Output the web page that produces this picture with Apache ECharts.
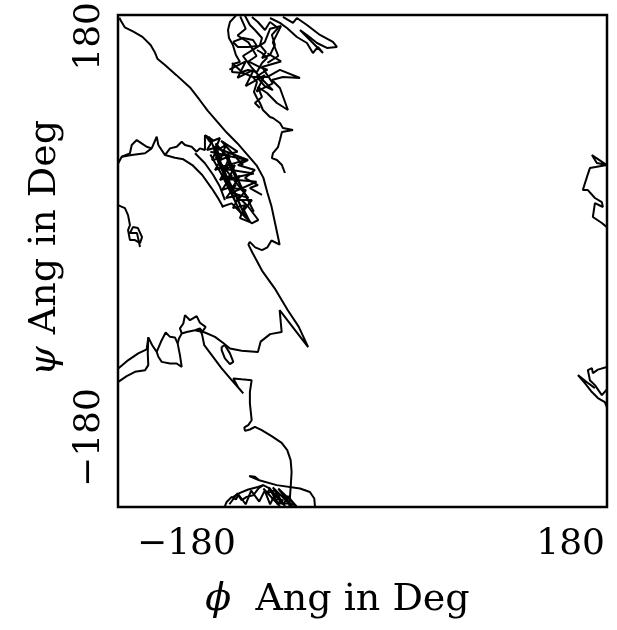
<!DOCTYPE html>
<html>
<head>
<meta charset="utf-8">
<script src="https://cdn.jsdelivr.net/npm/echarts@6/dist/echarts.min.js"></script>
<style>
  html, body { margin: 0; padding: 0; background: #fff; }
  #chart { width: 617px; height: 630px; }
</style>
</head>
<body>
<div id="chart"></div>
<script>
// phi / psi trajectory pieces, in degrees
const tickValues = [-180, 180];

const diagonal = [[-179,178],[-178,176],[-175,171],[-169,168],[-162,164],[-156,158],[-153,153],[-151,148],[-145,143],[-137,136],[-127,127],[-120,118],[-114,110],[-107,102],[-100,94],[-92,86],[-85,78],[-78,70],[-73,61],[-70,50],[-67,40],[-64,26],[-61,12],[-67,15],[-70,10],[-74,8],[-79,10],[-83,14],[-84,12],[-81,6],[-74,-7],[-64,-21],[-55,-36],[-47,-48],[-40,-63],[-61,-36],[-59.5,-52],[-68,-53.5],[-75,-59],[-77,-66.5],[-89,-65.7],[-97.6,-64],[-102.5,-60],[-108.6,-55.5],[-116,-52.3],[-123.3,-50.6]];

const upperWiggle = [[-179.8,-78.6],[-172.4,-72.5],[-165.1,-67.6],[-158.9,-64.7],[-157.7,-55.9],[-154.8,-61.6],[-151.5,-66.5],[-148.4,-59.1],[-144.9,-52.3],[-141.7,-55.5],[-138.1,-55.9],[-136.1,-60.3],[-134.4,-68.9],[-133.1,-77.5],[-136.8,-75],[-141.7,-75],[-147.8,-73.8],[-150.3,-70.1],[-151.5,-66.5]];
const lowerWiggle = [[-179.8,-88.4],[-173.6,-84.2],[-167.5,-81.1],[-160.1,-79.9],[-157.7,-76.2],[-158.1,-67.6],[-157.7,-55.9]];
const peaks = [[-136.1,-60.3],[-135.1,-56.7],[-133.1,-53],[-134.4,-49.3],[-131.9,-45.7],[-130.7,-39.6],[-127,-43.3],[-122.1,-40.3],[-119.7,-45.2],[-115.5,-48.2],[-118,-51.9],[-119.7,-49.3],[-123.3,-50.6],[-129.4,-51.9],[-133.1,-53]];
const oval = [[-103.7,-62.8],[-101.3,-61.6],[-97.6,-67.6],[-95.1,-73.8],[-97.6,-75.5],[-101.3,-71.3],[-103.7,-65.2],[-103.7,-62.8]];
const descent = [[-119.7,-49.3],[-118,-54.2],[-116.5,-61.6],[-111,-68.9],[-103.7,-78.6],[-96.3,-87.2],[-87.8,-96.9],[-91.5,-92.5],[-95.1,-85.9],[-89,-86.6],[-81.6,-87.2],[-82.9,-95.7],[-82.9,-104.2],[-81.6,-116.5],[-80.4,-117.7],[-84.1,-120.1],[-87,-121.8],[-86.5,-124.3],[-82.9,-123.3],[-79.2,-121.4],[-74.2,-123.8],[-66.9,-128.2],[-59.5,-133.1],[-55.4,-138.4],[-52.9,-145.7],[-52.2,-154.3],[-52.7,-162.8],[-53.4,-172.6],[-53.9,-179.4]];

const bottomLong = [[-76,-160.4],[-83.4,-157.4],[-79.2,-157.9],[-76,-160.4],[-63.2,-164],[-46,-166.5],[-38.7,-169],[-35.5,-173.8],[-35,-179.4]];
const bottomTangle = [[-101.3,-179.4],[-100,-176.3],[-96.3,-172.6],[-93.2,-174.5],[-91.5,-171.4],[-89,-175],[-85.3,-172.6],[-80.4,-171.4],[-76.7,-166.5],[-73.1,-164],[-68.1,-166.5],[-70.6,-170.1],[-64.5,-167.7],[-60.8,-171.4],[-66.9,-173.8],[-58.3,-175],[-63.2,-177.4],[-53.4,-177.4],[-48.5,-179.4]];
const bottomHatch = [[-73,-166.5],[-61,-179.4],[-69,-165.7],[-57,-179.4],[-66,-165.7],[-52,-179.4],[-62,-166.5],[-48.5,-179.4]];
const bottomLeft = [[-95.4,-172.8],[-90.2,-169.7],[-84.1,-167.2],[-77,-165.3],[-73.1,-164]];
const bottomZig = [[-98,-178],[-92,-170],[-86,-178],[-82,-168],[-76,-176],[-72,-168],[-68,-178],[-64,-170],[-58,-178],[-55,-172],[-50,-178]];

const edgeLoop = [[-180,40.9],[-174.9,38.7],[-172.6,33.6],[-171.2,26.3],[-172.6,22.6],[-171.2,15.3],[-167.5,15.3],[-163.8,13.1],[-162.3,17.5],[-165.3,24.1],[-169,24.8],[-171.2,20.4],[-166,20.4],[-163.8,10.2]];

const midLeft = [[-179.8,71.5],[-177.3,76.3],[-171.2,78.8],[-169.9,84.9],[-166.2,88.5],[-162.6,86.1],[-158.9,83.6],[-155.2,82.4],[-151.5,90.9],[-150.3,84.9],[-145.4,77.5],[-141.7,82.4],[-136.8,83.6],[-133.1,87.3],[-130.7,84.9],[-125.8,83.6],[-122.1,80],[-119.7,82.4],[-116,81.2],[-116,92.2]];
const midLower = [[-177.3,76.3],[-169.9,77.5],[-160.1,78.8],[-155.2,82.4]];
const midArc = [[-145.4,77.5],[-138.1,75.6],[-131.9,74.4],[-125.3,70.2],[-118,62.9],[-111,53.2],[-106.2,45.8],[-102.5,39.3]];
const midArc2 = [[-123.3,78.8],[-116,71.5],[-109.9,62.9],[-104.9,54.3],[-101.3,44.6]];
const knot = [[-116,92.2],[-110.1,88.5],[-114.5,81.2],[-106.4,83.4],[-110.8,73.9],[-103.5,75.3],[-108.6,66.6],[-99,70.2],[-104.9,59.2],[-96.1,62.9],[-103.5,51.9],[-93.2,55.6],[-100.5,46.1],[-90.2,48.3],[-95.4,38.7],[-86.5,40.9],[-90.2,31.4],[-82.9,28.5],[-87.3,37.3],[-81.4,44.6],[-91.7,44.6],[-85.8,51.9],[-96.1,53.4],[-90.2,62.2],[-99,59.2],[-93.9,70.2],[-102,66.6],[-97.6,76.8],[-104.9,73.9],[-100.5,84.9],[-109.3,79.7],[-104.9,90],[-112.3,87.1],[-116,92.2]];
const knotStrokes = [[-113,91],[-100,62],[-94,50],[-86,32],[-92,45],[-104,70],[-108,86],[-98,74],[-90,56],[-84,44],[-80,36],[-88,52],[-96,66],[-102,80],[-110,84],[-106,72],[-99,57],[-93,42],[-89,34],[-97,50],[-103,62],[-112,78]];
const knotWide = [[-112,80],[-86,74],[-106,68],[-80,64],[-100,60],[-78,58],[-96,50],[-84,46],[-108,76],[-92,80],[-104,88],[-88,70]];
const knotRight = [[-103.5,81.2],[-84.3,73.9],[-91.7,70.2],[-79.2,66.6],[-86.5,60.7],[-77,55.6],[-82.9,53.4],[-74,48.3]];
const knotLow = [[-103.7,39.7],[-96.3,42.2],[-91.5,37.3],[-84.1,30],[-81.6,27.5],[-76.7,30],[-84.1,39.7],[-89,44.6]];

const topLobe = [[-93.2,179.5],[-97.6,174.9],[-99,169],[-98.3,163.2],[-95.4,158.1],[-93.2,150.7],[-90.2,145.6],[-95.4,144.2],[-96.1,138.3],[-88,137.6],[-80.6,134.6],[-77.7,131],[-79.9,123.7],[-77.7,119.3],[-75.5,115.6],[-73.3,110.5],[-68.1,105.4],[-65.9,104.6],[-60.8,101],[-58.6,97.3],[-51.2,95.8],[-59.3,94.4],[-60.8,88.5],[-62.2,83.4],[-65.9,79],[-66.7,75.3],[-63,73.9],[-59.3,70.2],[-57.1,64.4]];
const topOval = [[-95.4,160.3],[-88,163.2],[-80.6,161.7],[-77.7,157.3],[-84.3,156.6],[-91.7,156.6],[-95.4,160.3]];
const topColumn = [[-86.5,179.5],[-82.9,172.7],[-79.2,169],[-74,163.2],[-75.5,158.1],[-71.1,152.9],[-74,148.5],[-68.1,150.7],[-64.5,158.1],[-66.7,165.4],[-62.2,170.5],[-68.1,174.9],[-71.8,169],[-77,174.9],[-81.4,178.6]];
const topRight = [[-68.1,177.8],[-60.8,174.2],[-55.6,170.5],[-48.3,163.9],[-40.9,159.5],[-36.5,152.2],[-32.8,156.6],[-29.1,152.2],[-38.7,161.7],[-46,169],[-40.9,165.4],[-33.5,159.5],[-26.2,155.9],[-18.8,156.6],[-21.8,160.3],[-31.3,165.4],[-40.9,172.7],[-48.3,177.8],[-51.2,174.2],[-58.6,178.6]];
const topSpikes = [[-96.1,144.9],[-88.7,138.3],[-84.3,139.8],[-77.7,138.3],[-74,144.9],[-70.3,148.5],[-74,152.2],[-77.7,154.4]];
const topSpikes2 = [[-80.6,134.6],[-70.3,134.6],[-60.8,139.8],[-46,133.9],[-58.6,134.6],[-66.7,132.4],[-60.8,126.6],[-54.9,110.5],[-63,115.6],[-70.3,122.9],[-77,127.3],[-74,120],[-79.2,115.6],[-75.5,111.9]];
const topDense = [[-90,179],[-86,170],[-92,165],[-84,160],[-78,150],[-84,146],[-76,142],[-70,140],[-78,135],[-72,128],[-66,125],[-74,133],[-82,142],[-88,150],[-80,155],[-72,160],[-68,170],[-60,172],[-66,160],[-62,150],[-70,145]];
const topTangle = [[-98,140],[-86,146],[-92,134],[-80,140],[-86,128],[-72,136],[-78,124],[-66,130],[-74,142],[-60,146],[-70,152]];

const rightUpper = [[179.9,70.2],[168.9,77.5],[172.5,71.7],[179.9,70.2],[167.4,68],[165.2,61.4],[162.2,51.9],[165.9,51.9],[171.1,46.1],[176.2,43.1],[177,39.5],[171.1,42.4],[169.6,32.2],[176.2,27.8],[179.9,24.8]];
const rightLowerA = [[179.9,-77.6],[173.3,-79.5],[169.6,-82],[168.9,-78.4],[165.9,-79.8],[167.4,-87.2],[171.1,-90.8],[176.2,-98.1],[179.9,-94]];
const rightLowerB = [[179.9,-106.9],[178.4,-103.3],[173.3,-100.3],[168.9,-95.9],[163.7,-89.4],[158.6,-83.5],[165,-88.5],[171.1,-93]];

const paths = [diagonal, upperWiggle, lowerWiggle, peaks, oval, descent,
  bottomLong, bottomTangle, bottomHatch, bottomLeft, bottomZig, edgeLoop,
  midLeft, midLower, midArc, midArc2, knot, knotStrokes, knotWide, knotRight, knotLow,
  topLobe, topOval, topColumn, topRight, topSpikes, topSpikes2, topDense, topTangle,
  rightUpper, rightLowerA, rightLowerB];

const serif = 'DejaVu Serif';
const fmt = v => (v < 0 ? '\u2212' + Math.abs(v) : String(v));

const chart = echarts.init(document.getElementById('chart'), null, { renderer: 'canvas' });

chart.setOption({
  animation: false,
  backgroundColor: '#fff',
  grid: {
    left: 118, top: 15, width: 489, height: 492,
    show: true, borderColor: '#000', borderWidth: 2.5,
    outerBoundsMode: 'none'
  },
  xAxis: {
    type: 'value', min: tickValues[0], max: tickValues[1], interval: 360,
    splitLine: { show: false }, axisTick: { show: false }, axisLine: { show: false },
    axisLabel: {
      formatter: fmt, color: '#000', fontFamily: serif, fontSize: 36, margin: 20,
      alignMinLabel: 'left', alignMaxLabel: 'right', padding: [0, 2, 0, 19]
    },
    name: '{g|\u03d5}  Ang in Deg', nameLocation: 'middle', nameGap: 74,
    nameTextStyle: {
      color: '#000', fontFamily: serif, fontSize: 38, padding: [0, 50, 0, 0],
      rich: { g: { fontFamily: serif, fontStyle: 'italic', fontSize: 38, color: '#000' } }
    }
  },
  yAxis: {
    type: 'value', min: tickValues[0], max: tickValues[1], interval: 360,
    splitLine: { show: false }, axisTick: { show: false }, axisLine: { show: false },
    axisLabel: {
      formatter: fmt, color: '#000', fontFamily: serif, fontSize: 36, margin: 10, rotate: 90,
      alignMinLabel: 'left', alignMaxLabel: 'right', padding: [0, -13, 0, 20]
    },
    name: '{g|\u03c8} Ang in Deg', nameLocation: 'middle', nameGap: 50, nameRotate: 90,
    nameTextStyle: {
      color: '#000', fontFamily: serif, fontSize: 38, padding: [0, 0, 0, 26],
      rich: { g: { fontFamily: serif, fontStyle: 'italic', fontSize: 38, color: '#000' } }
    }
  },
  series: paths.map(p => ({
    type: 'line', data: p, showSymbol: false, symbol: 'none', silent: true, clip: true,
    lineStyle: { color: '#000', width: 2 }
  }))
});
</script>
</body>
</html>
